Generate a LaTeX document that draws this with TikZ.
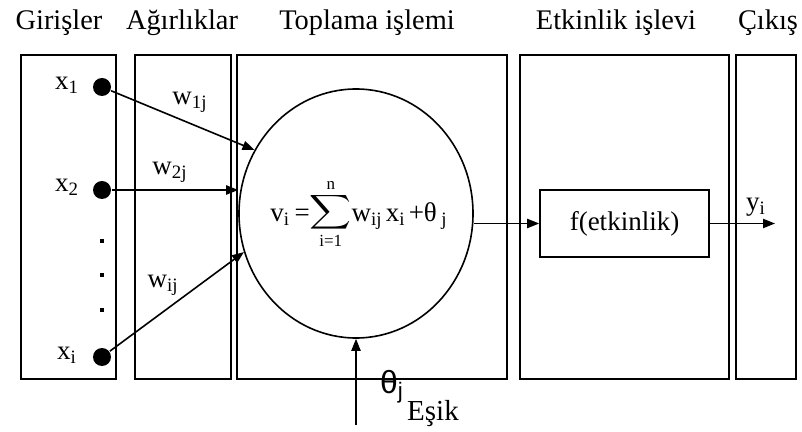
\documentclass[tikz,border=0pt]{standalone}
\usepackage{graphicx}
\usepackage{fontspec}
\setmainfont{Liberation Serif}
\newfontfamily\thetafont{Liberation Sans}
\usetikzlibrary{arrows.meta,shapes.geometric}

\begin{document}
\begin{tikzpicture}[x=0.5pt,y=-0.5pt,line width=0.8pt,
  >={Triangle[length=6pt,width=4.6pt]},
  panel/.style={draw,line width=1pt},
  title/.style={font=\fontsize{14.2}{16}\selectfont,anchor=base,inner sep=0pt},
  lbl/.style={font=\fontsize{13.5}{15}\selectfont,inner sep=0pt},
  dot/.style={circle,fill,inner sep=0pt,minimum size=9pt}]
\useasboundingbox (0,0) rectangle (802,432);
% column titles
\node[title] (tgir) at (59,30) {Girişler};
\node[title] (tagr) at (182,30) {Ağırlıklar};
\node[title] (ttop) at (367,30) {Toplama işlemi};
\node[title] (tetk) at (616,30) {Etkinlik işlevi};
\node[title] (tcik) at (768,30) {Çıkış};
% panels
\draw[panel] (21,55) rectangle (116,379);
\draw[panel] (135,55) rectangle (231,379);
\draw[panel] (237,55) rectangle (507,379);
\draw[panel] (520,55) rectangle (729,379);
\draw[panel] (736,55) rectangle (796,379);
% inputs
\node[dot] (x1dot) at (102,87) {};
\node[dot] (x2dot) at (102,190) {};
\node[dot] (xidot) at (102,357) {};
\node[lbl] (x1) at (67,85) {x\textsubscript{1}};
\node[lbl] (x2) at (67,187) {x\textsubscript{2}};
\node[lbl] (xi) at (67,355) {x\textsubscript{i}};
\foreach \y in {241,275,310}
  \fill (100,\y-2) rectangle (104,\y+2);
% summation
\node[ellipse,draw,inner sep=0pt,minimum width=117pt,minimum height=124.5pt] (sum) at (356,213.5) {};
\node[lbl] (formula) at (359,214)
  {v\textsubscript{i}\,=$\mathop{\scalebox{1.45}[1.2]{$\displaystyle\sum$}}\limits_{\hbox{\fontsize{8.5}{9}\selectfont i=1}}^{\hbox{\fontsize{8.5}{9}\selectfont n}}$w\textsubscript{ij\,}x\textsubscript{i\,}+θ\,\textsubscript{j}};
\draw[->] (x1dot) -- (sum.148);
\draw[->] (x2dot) -- (x2dot -| sum.west);
\draw[->] (xidot) -- (sum.199);
\node[lbl] (w1j) at (190,102) {w\textsubscript{1j}};
\node[lbl] (w2j) at (170,172) {w\textsubscript{2j}};
\node[lbl] (wij) at (163,285) {w\textsubscript{ij}};
% threshold
\coordinate (esik) at (356,425);
\draw[->] (esik) -- (sum.south);
\node[lbl,font=\fontsize{16}{18}\thetafont] (theta) at (392,387) {θ\textsubscript{j}};
\node[lbl,font=\fontsize{14.5}{16}\selectfont] (esikl) at (433,414) {Eşik};
% activation and output
\node[draw,minimum width=84.5pt,minimum height=33.5pt,font=\fontsize{13.5}{15}\selectfont]
  (fbox) at (624.5,223.5) {f(etkinlik)};
\draw[->] (sum.east |- fbox.west) -- (fbox.west);
\coordinate (yout) at (775,223.5);
\draw[->] (fbox.east) -- (yout);
\node[lbl] (yi) at (756,207) {y\textsubscript{i}};
\end{tikzpicture}
\end{document}
